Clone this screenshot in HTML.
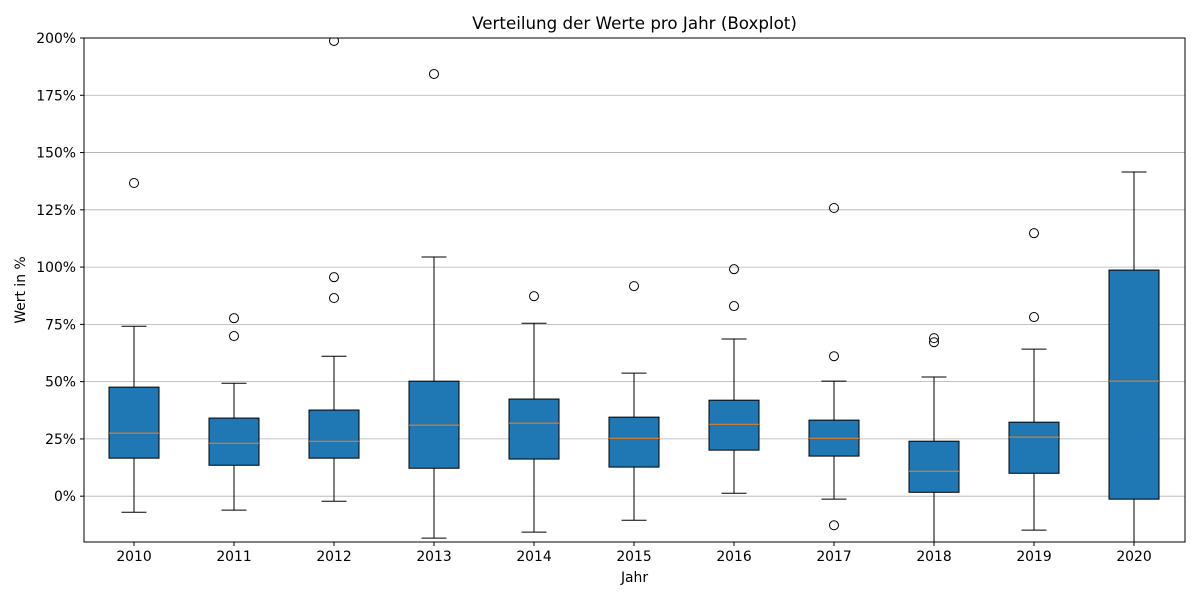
<!DOCTYPE html>
<html><head><meta charset="utf-8"><style>
body{margin:0;background:#fff;}
svg{display:block;font-family:"DejaVu Sans","Liberation Sans",sans-serif;}
</style></head><body>
<svg id="chart" width="1200" height="600"></svg>
<script>
const years=["2010","2011","2012","2013","2014","2015","2016","2017","2018","2019","2020"];
const whiskerHigh=[74.2,49.3,61.1,104.4,75.5,53.7,68.6,50.2,52.0,64.2,141.5];
const q3s=[47.6,34.1,37.6,50.2,42.4,34.5,41.9,33.2,24.0,32.3,98.7];
const medians=[27.5,23.1,24.0,31.0,31.9,25.3,31.4,25.3,10.9,25.8,50.2];
const q1s=[16.6,13.5,16.6,12.2,16.2,12.7,20.1,17.5,1.7,10.0,-1.3];
const whiskerLow=[-7.0,-6.1,-2.2,-18.3,-15.7,-10.5,1.3,-1.3,-25,-14.8,-30];
const outliers=[[136.7],[77.7,69.9],[198.7,95.6,86.5],[184.3],[87.3],[91.7],[99.1,83.0],[125.8,61.1,-12.7],[69.0,67.2],[114.8,78.2],[]];
const yTicks=[0,25,50,75,100,125,150,175,200];

const NS="http://www.w3.org/2000/svg";
const svg=document.getElementById('chart');
const L=84,R=1185,T=38,B=542,yMin=-20,yMax=200;
const y=v=>B-(v-yMin)/(yMax-yMin)*(B-T);
const x=i=>134+i*100;
function el(tag,attrs,parent){const e=document.createElementNS(NS,tag);for(const k in attrs)e.setAttribute(k,attrs[k]);(parent||svg).appendChild(e);return e;}
const defs=el('defs',{});
const cp=el('clipPath',{id:'clip'},defs);el('rect',{x:L,y:T,width:R-L,height:B-T},cp);

yTicks.forEach(t=>{
  const g=el('line',{x1:L,x2:R,y1:y(t),y2:y(t),stroke:'#b0b0b0','stroke-width':0.8});
  
  
  el('line',{x1:L-4,x2:L,y1:y(t),y2:y(t),stroke:'#000'});
  const tx=el('text',{x:L-8,y:y(t)+5,'text-anchor':'end','font-size':13.9});
  tx.textContent=t+'%';
  
  
});
const plot=el('g',{'clip-path':'url(#clip)'});
years.forEach((yr,i)=>{
  const cx=x(i),hw=25;
  const g=el('g',{},plot);
  
  
  el('line',{x1:cx,x2:cx,y1:y(q3s[i]),y2:y(whiskerHigh[i]),stroke:'#000'},g);
  el('line',{x1:cx,x2:cx,y1:y(q1s[i]),y2:y(whiskerLow[i]),stroke:'#000'},g);
  el('line',{x1:cx-12.5,x2:cx+12.5,y1:y(whiskerHigh[i]),y2:y(whiskerHigh[i]),stroke:'#000'},g);
  el('line',{x1:cx-12.5,x2:cx+12.5,y1:y(whiskerLow[i]),y2:y(whiskerLow[i]),stroke:'#000'},g);
  el('rect',{x:cx-hw,y:y(q3s[i]),width:2*hw,height:y(q1s[i])-y(q3s[i]),fill:'#1f77b4',stroke:'#000'},g);
  el('line',{x1:cx-hw,x2:cx+hw,y1:y(medians[i]),y2:y(medians[i]),stroke:'#ff7f0e','stroke-width':1},g);
  outliers[i].forEach(o=>{
    const c=el('circle',{cx:cx,cy:y(o),r:4.5,fill:'none',stroke:'#000'},g);
    
    
  });
  el('line',{x1:cx,x2:cx,y1:B,y2:B+4,stroke:'#000'});
  const tx=el('text',{x:cx,y:B+19,'text-anchor':'middle','font-size':13.9});
  tx.textContent=yr;
  
  
});
const frame=el('rect',{x:L,y:T,width:R-L,height:B-T,fill:'none',stroke:'#000','stroke-width':1});


const title=el('text',{x:(L+R)/2,y:29,'text-anchor':'middle','font-size':16.7});
title.textContent='Verteilung der Werte pro Jahr (Boxplot)';


const xl=el('text',{x:(L+R)/2,y:582,'text-anchor':'middle','font-size':13.9});
xl.textContent='Jahr';


const yl=el('text',{x:0,y:0,'text-anchor':'middle','font-size':13.9,transform:'translate(25,290) rotate(-90)'});
yl.textContent='Wert in %';


</script>
</body></html>
